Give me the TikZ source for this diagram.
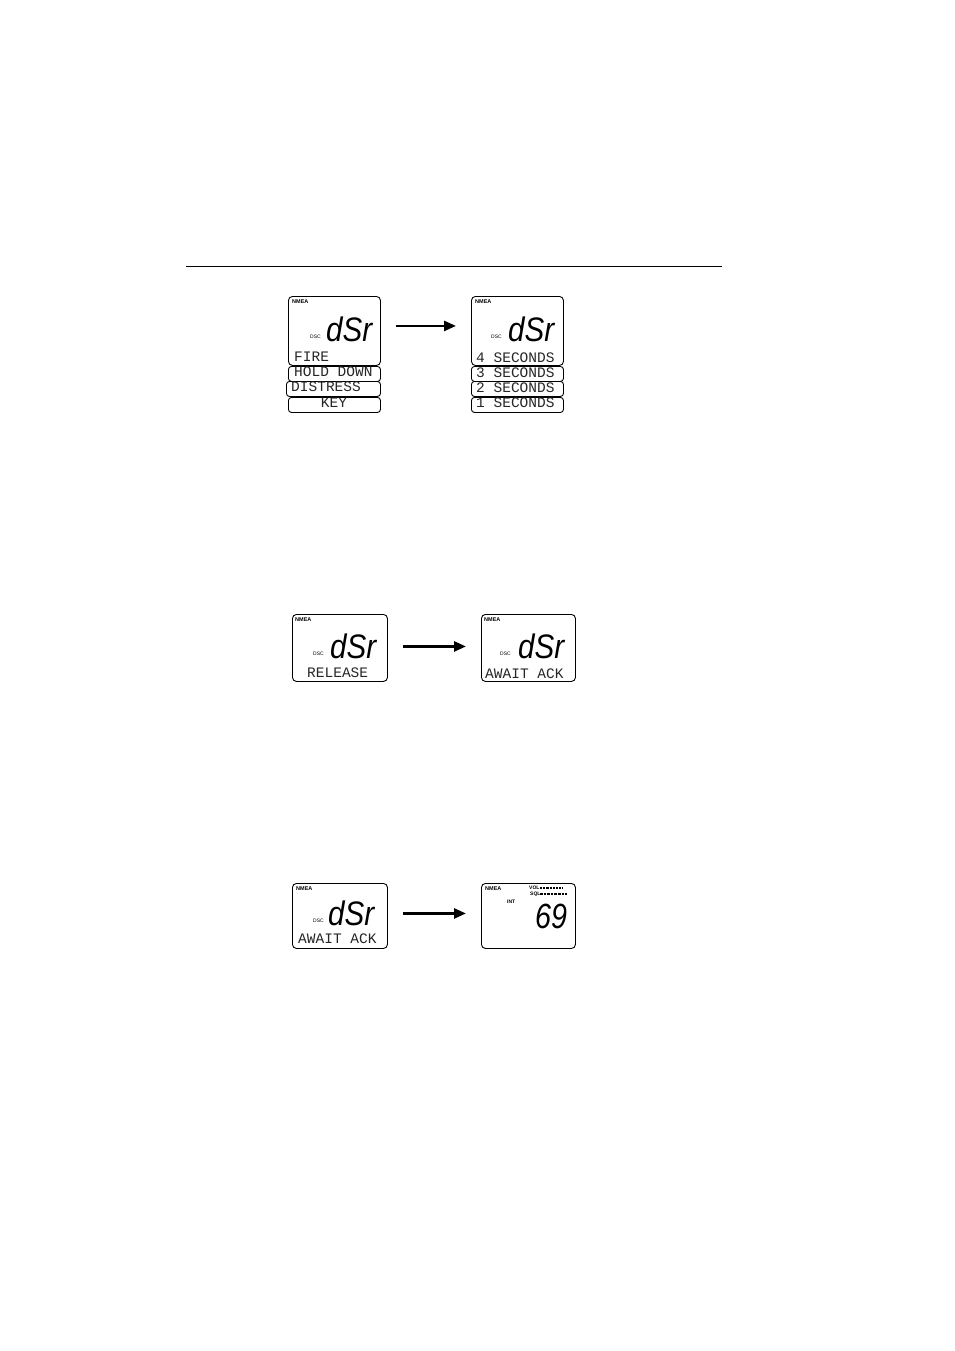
\documentclass[tikz,border=0pt]{standalone}
\usepackage{fontspec}
\setmainfont{Liberation Sans}
\newfontfamily\lcdfont{Liberation Mono}
\usetikzlibrary{arrows.meta}
\begin{document}
\begin{tikzpicture}[x=1pt,y=-1pt,
  lcd/.style={draw, rounded corners=4pt, line width=0.9pt, inner sep=0pt, anchor=north west},
  lcdrow/.style={draw, rounded corners=3pt, line width=0.9pt, inner sep=0pt, anchor=north west, minimum height=15pt},
  tag/.style={font=\fontsize{5.5}{5.5}\selectfont\bfseries, inner sep=0pt, anchor=base west},
  dsc/.style={font=\fontsize{5}{5}\selectfont, inner sep=0pt, anchor=base west},
  big/.style={font=\fontsize{34}{34}\selectfont\itshape, inner sep=0pt, anchor=base west},
  txt/.style={font=\lcdfont\fontsize{14.5}{14.5}\selectfont, text=black!85, inner sep=0pt, anchor=base west},
  arr/.style={line width=2.6pt, -{Triangle[length=12pt,width=10pt]}, shorten <=15pt, shorten >=15pt}]
\useasboundingbox (0,0) rectangle (954,1351);

% header rule
\coordinate (rl) at (186,266);
\coordinate (rr) at (722,266);
\draw[line width=1pt] (rl) -- (rr);

% ---------- top left ----------
\node[lcd, minimum width=92pt, minimum height=69pt] (lcdA) at (288,296) {};
\node[lcdrow, minimum width=92pt] (rowA1) at (288,366) {};
\node[lcdrow, minimum width=94pt] (rowA2) at (286,381) {};
\node[lcdrow, minimum width=92pt] (rowA3) at (288,397) {};
\node[tag] (nmeaA) at (292,303) {NMEA};
\node[dsc] (dscA) at (310,338) {DSC};
\node[big] (dsrA) at (326,341) {\scalebox{0.87}[1]{dSr}};
\node[txt] (tA0) at (294,361) {FIRE};
\node[txt] (tA1) at (294,376) {HOLD DOWN};
\node[txt] (tA2) at (291,391) {DISTRESS};
\node[txt, anchor=base] (tA3) at (334,407) {KEY};

% ---------- top right ----------
\node[lcd, minimum width=92pt, minimum height=69pt] (lcdB) at (471,296) {};
\node[lcdrow, minimum width=92pt] (rowB1) at (471,366) {};
\node[lcdrow, minimum width=92pt] (rowB2) at (471,381) {};
\node[lcdrow, minimum width=92pt] (rowB3) at (471,397) {};
\node[tag] (nmeaB) at (475,303) {NMEA};
\node[dsc] (dscB) at (491,338) {DSC};
\node[big] (dsrB) at (508,341) {\scalebox{0.87}[1]{dSr}};
\node[txt] (tB0) at (476,362) {4 SECONDS};
\node[txt] (tB1) at (476,377) {3 SECONDS};
\node[txt] (tB2) at (476,392) {2 SECONDS};
\node[txt] (tB3) at (476,407) {1 SECONDS};

\draw[arr] ([yshift=5pt]lcdA.east) -- ([yshift=5pt]lcdB.west);

% ---------- middle ----------
\node[lcd, minimum width=95pt, minimum height=67pt] (lcdC) at (292,614) {};
\node[tag] (nmeaC) at (295,621) {NMEA};
\node[dsc] (dscC) at (313,655) {DSC};
\node[big] (dsrC) at (330,658) {\scalebox{0.87}[1]{dSr}};
\node[txt] (tC0) at (307,677) {RELEASE};

\node[lcd, minimum width=94pt, minimum height=67pt] (lcdD) at (481,614) {};
\node[tag] (nmeaD) at (484,621) {NMEA};
\node[dsc] (dscD) at (500,655) {DSC};
\node[big] (dsrD) at (518,658) {\scalebox{0.87}[1]{dSr}};
\node[txt] (tD0) at (485,678) {AWAIT ACK};

\draw[arr] ([yshift=1.5pt]lcdC.east) -- ([yshift=1.5pt]lcdD.west);

% ---------- bottom ----------
\node[lcd, minimum width=95pt, minimum height=65pt] (lcdE) at (292,883) {};
\node[tag] (nmeaE) at (296,890) {NMEA};
\node[dsc] (dscE) at (313,922) {DSC};
\node[big] (dsrE) at (328,925) {\scalebox{0.87}[1]{dSr}};
\node[txt] (tE0) at (298,943) {AWAIT ACK};

\node[lcd, minimum width=94pt, minimum height=65pt] (lcdF) at (481,883) {};
\node[tag] (nmeaF) at (485,890) {NMEA};
\node[dsc, font=\fontsize{5}{5}\selectfont\bfseries] (volF) at (529,889) {VOL};
\node[dsc, font=\fontsize{5}{5}\selectfont\bfseries] (sqlF) at (530,895) {SQL};
\node[dsc, font=\fontsize{5}{5}\selectfont\bfseries] (intF) at (507,903) {INT};
\coordinate (volA) at (540,887.5);
\coordinate (volB) at (563,887.5);
\coordinate (sqlA) at (540,893.5);
\coordinate (sqlB) at (567,893.5);
\draw[line width=2pt, dash pattern=on 2.2pt off 1pt] (volA) -- (volB);
\draw[line width=2pt, dash pattern=on 2.6pt off 1pt] (sqlA) -- (sqlB);
\node[big, font=\fontsize{35}{35}\selectfont\itshape] (chF) at (535,928) {\scalebox{0.82}[1]{69}};

\draw[arr] ([yshift=2.5pt]lcdE.east) -- ([yshift=2.5pt]lcdF.west);
\end{tikzpicture}
\end{document}
